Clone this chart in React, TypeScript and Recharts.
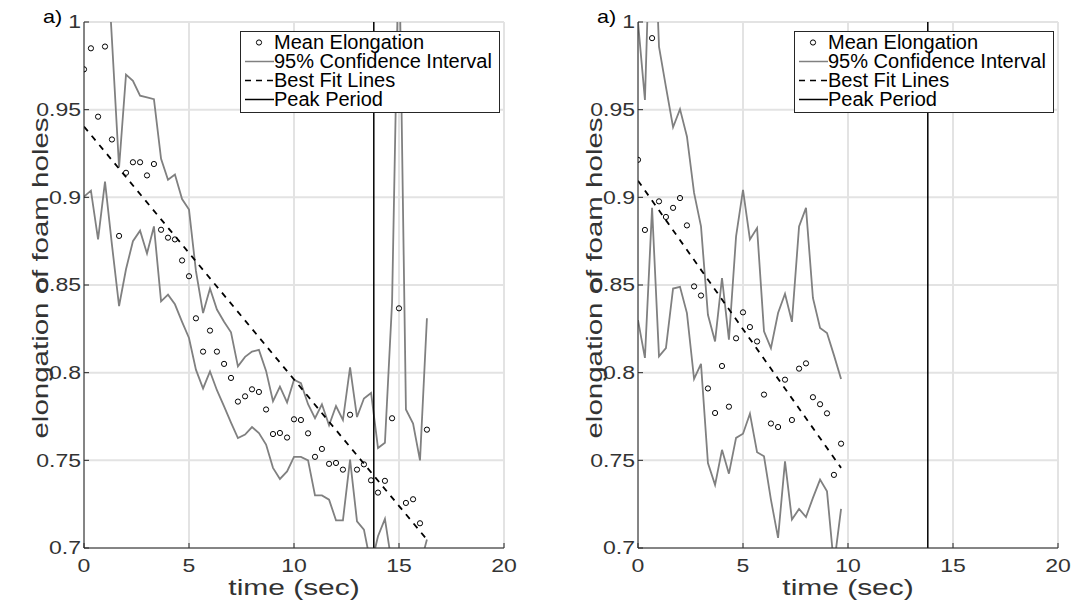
import React from "react";
import {
  ComposedChart,
  Line,
  Scatter,
  XAxis,
  YAxis,
  CartesianGrid,
  ReferenceLine,
  Legend,
} from "recharts";

// time samples (sec)
const timeLeft = [
  0, 0.33, 0.67, 1, 1.33, 1.67, 2, 2.33, 2.67, 3, 3.33, 3.67, 4, 4.33, 4.67, 5, 5.33, 5.67, 6, 6.33,
  6.67, 7, 7.33, 7.67, 8, 8.33, 8.67, 9, 9.33, 9.67, 10, 10.33, 10.67, 11, 11.33, 11.67, 12, 12.33,
  12.67, 13, 13.33, 13.67, 14, 14.33, 14.67, 15, 15.33, 15.67, 16, 16.33,
];
const meanLeft = [
  0.973, 0.985, 0.946, 0.986, 0.933, 0.878, 0.914, 0.92, 0.92, 0.9125, 0.919, 0.8815, 0.877, 0.876,
  0.864, 0.855, 0.831, 0.812, 0.824, 0.812, 0.805, 0.797, 0.7835, 0.7865, 0.7905, 0.789, 0.779,
  0.765, 0.7656, 0.763, 0.7734, 0.773, 0.7654, 0.752, 0.7565, 0.748, 0.7485, 0.7447, 0.776, 0.7447,
  0.7477, 0.7386, 0.7316, 0.7383, 0.774, 0.8367, 0.7257, 0.7278, 0.7141, 0.7675,
];
const upperLeft = [
  1.05, 1.06, 1.04, 1.06, 0.99, 0.917, 0.97, 0.9665, 0.958, 0.957, 0.956, 0.922, 0.91, 0.913, 0.899,
  0.893, 0.858, 0.834, 0.848, 0.836, 0.829, 0.823, 0.8036, 0.809, 0.812, 0.813, 0.801, 0.7837, 0.792,
  0.783, 0.796, 0.794, 0.782, 0.774, 0.782, 0.77, 0.781, 0.773, 0.803, 0.7747, 0.7853, 0.7884, 0.757,
  0.76, 0.84, 1.05, 0.779, 0.771, 0.75, 0.831,
];
const lowerLeft = [
  0.9004, 0.9038, 0.876, 0.909, 0.873, 0.838, 0.859, 0.875, 0.881, 0.868, 0.8834, 0.8407, 0.8445,
  0.839, 0.829, 0.8198, 0.8017, 0.791, 0.8007, 0.79, 0.7808, 0.7715, 0.7627, 0.7647, 0.769, 0.7656,
  0.759, 0.7457, 0.7394, 0.7437, 0.752, 0.752, 0.75, 0.73, 0.73, 0.7276, 0.7158, 0.7158, 0.7504,
  0.7152, 0.7105, 0.69, 0.7067, 0.7166, 0.69, 0.68, 0.68, 0.68, 0.69, 0.7048,
];
const fitLeftTime = [0, 16.33];
const fitLeftValue = [0.9404, 0.7048];
const peakLeft = 13.8;

const timeRight = [
  0, 0.33, 0.67, 1, 1.33, 1.67, 2, 2.33, 2.67, 3, 3.33, 3.67, 4, 4.33, 4.67, 5, 5.33, 5.67, 6, 6.33,
  6.67, 7, 7.33, 7.67, 8, 8.33, 8.67, 9, 9.33, 9.67,
];
const meanRight = [
  0.9214, 0.8814, 0.9908, 0.8977, 0.8888, 0.894, 0.8996, 0.884, 0.8492, 0.844, 0.791, 0.777, 0.8038,
  0.7806, 0.8196, 0.8344, 0.826, 0.8178, 0.7875, 0.771, 0.769, 0.796, 0.773, 0.8023, 0.8053, 0.786,
  0.782, 0.7768, 0.7417, 0.7595,
];
const upperRight = [
  1.0, 0.9556, 1.09, 0.986, 0.963, 0.94, 0.9503, 0.9347, 0.9025, 0.8834, 0.833, 0.8178, 0.854, 0.8188,
  0.8777, 0.9043, 0.876, 0.8825, 0.8236, 0.814, 0.834, 0.845, 0.829, 0.8834, 0.894, 0.8426, 0.8255,
  0.8226, 0.81, 0.7964,
];
const lowerRight = [
  0.83, 0.8084, 0.894, 0.8093, 0.814, 0.848, 0.849, 0.834, 0.7964, 0.805, 0.7485, 0.736, 0.756, 0.7424,
  0.7628, 0.7652, 0.7766, 0.7546, 0.7523, 0.7276, 0.7058, 0.7494, 0.7162, 0.7223, 0.7177, 0.7286,
  0.739, 0.7323, 0.69, 0.7223,
];
const fitRightTime = [0, 9.67];
const fitRightValue = [0.9095, 0.7457];
const peakRight = 13.8;

const xTicks = [0, 5, 10, 15, 20];
const yTicks = [0.7, 0.75, 0.8, 0.85, 0.9, 0.95, 1];
const legendLabels = ["Mean Elongation", "95% Confidence Interval", "Best Fit Lines", "Peak Period"];
const panelLabel = "a)";
const xLabel = "time (sec)";
const yLabel = "elongation of foam holes";

const FONT = '"Liberation Sans", Arial, Helvetica, sans-serif';
const INK = "#262626";
const TXT = "#333";
const CI = "#808080";

const pts = (t: number[], v: number[]) => t.map((x, i) => ({ t: x, v: v[i] }));
const fmt = (v: number) => String(+v.toFixed(2));

function YTick(props: any) {
  const { x, y, payload } = props;
  const ax = x + 3;
  return (
    <g>
      <line x1={ax} x2={ax + 5} y1={y} y2={y} stroke={INK} />
      <text
        transform={`translate(${x},${y}) scale(1.28,1)`}
        textAnchor="end"
        dy="0.36em"
        fontSize={18}
        fill={TXT}
        fontFamily={FONT}
      >
        {fmt(payload.value)}
      </text>
    </g>
  );
}

function XTick(props: any) {
  const { x, y, payload } = props;
  const ay = y - 11;
  return (
    <g>
      <line x1={x} x2={x} y1={ay} y2={ay - 5} stroke={INK} />
      <text
        transform={`translate(${x},${y}) scale(1.28,1)`}
        textAnchor="middle"
        dy="0.72em"
        fontSize={18}
        fill={TXT}
        fontFamily={FONT}
      >
        {fmt(payload.value)}
      </text>
    </g>
  );
}

function Dot(props: any) {
  return <circle cx={props.cx} cy={props.cy} r={2.6} fill="none" stroke="#000" strokeWidth={1} />;
}

function LegendBox() {
  const icons = [
    <circle key="c" cx={18} cy={9.5} r={2.6} fill="none" stroke="#000" />,
    <line key="l" x1={4} x2={33} y1={9.5} y2={9.5} stroke={CI} strokeWidth={1.5} />,
    <line key="d" x1={4} x2={33} y1={9.5} y2={9.5} stroke="#000" strokeWidth={1.5} strokeDasharray="6 5" />,
    <line key="p" x1={4} x2={33} y1={9.5} y2={9.5} stroke="#000" strokeWidth={1.5} />,
  ];
  return (
    <div
      style={{
        width: 260,
        height: 82,
        boxSizing: "border-box",
        border: `1px solid ${INK}`,
        background: "#fff",
        paddingTop: 1,
        fontFamily: FONT,
        fontSize: 20,
        color: "#000",
      }}
    >
      {legendLabels.map((label, i) => (
        <div key={label} style={{ display: "flex", alignItems: "center", height: 19, whiteSpace: "nowrap" }}>
          <svg width={33} height={19} style={{ flex: "none" }}>
            {icons[i]}
          </svg>
          <span style={{ lineHeight: "19px" }}>{label}</span>
        </div>
      ))}
    </div>
  );
}

type PanelProps = {
  time: number[];
  mean: number[];
  upper: number[];
  lower: number[];
  fitT: number[];
  fitV: number[];
  peak: number;
  marginLeft: number;
  marginRight: number;
  legendLeft: number;
};

function Panel(p: PanelProps) {
  return (
    <ComposedChart
      width={536}
      height={601}
      margin={{ top: 22, right: p.marginRight, bottom: 23, left: p.marginLeft }}
    >
      <CartesianGrid stroke="#e3e3e3" strokeWidth={2} />
      <XAxis
        type="number"
        dataKey="t"
        domain={[0, 20]}
        ticks={xTicks}
        interval={0}
        allowDataOverflow
        height={30}
        tickSize={0}
        tickLine={false}
        tickMargin={11}
        tick={<XTick />}
        axisLine={{ stroke: INK }}
        label={{
          content: (lp: any) => {
            const vb = lp.viewBox;
            return (
              <text
                transform={`translate(${vb.x + vb.width / 2},${vb.y + 47}) scale(1.36,1)`}
                textAnchor="middle"
                fontSize={22}
                fill={TXT}
                fontFamily={FONT}
              >
                {xLabel}
              </text>
            );
          },
        }}
      />
      <YAxis
        type="number"
        dataKey="v"
        domain={[0.7, 1]}
        ticks={yTicks}
        interval={0}
        allowDataOverflow
        width={50}
        tickSize={0}
        tickLine={false}
        tickMargin={3}
        tick={<YTick />}
        axisLine={{ stroke: INK }}
        label={{
          content: (lp: any) => {
            const vb = lp.viewBox;
            const ax = vb.x + vb.width;
            return (
              <g>
                <text
                  transform={`translate(${ax - 36},${vb.y + 256}) rotate(-90) scale(1.34,1)`}
                  textAnchor="middle"
                  fontSize={22}
                  fill={TXT}
                  fontFamily={FONT}
                >
                  {yLabel}
                </text>
                <text
                  transform={`translate(${ax - 41},${vb.y + 1}) scale(1.2,1)`}
                  fontSize={18}
                  fill="#000"
                  fontFamily={FONT}
                >
                  {panelLabel}
                </text>
              </g>
            );
          },
        }}
      />
      <Line
        data={pts(p.time, p.upper)}
        dataKey="v"
        stroke={CI}
        strokeWidth={1.8}
        dot={false}
        isAnimationActive={false}
      />
      <Line
        data={pts(p.time, p.lower)}
        dataKey="v"
        stroke={CI}
        strokeWidth={1.8}
        dot={false}
        isAnimationActive={false}
      />
      <Line
        data={pts(p.fitT, p.fitV)}
        dataKey="v"
        stroke="#000"
        strokeWidth={1.8}
        strokeDasharray="6 6"
        dot={false}
        isAnimationActive={false}
      />
      <Scatter data={pts(p.time, p.mean)} dataKey="v" shape={<Dot />} isAnimationActive={false} />
      <ReferenceLine x={p.peak} stroke="#000" strokeWidth={1.5} />
      <Legend
        layout="horizontal"
        verticalAlign="middle"
        align="center"
        content={<LegendBox />}
        wrapperStyle={{ left: p.legendLeft, top: 31, width: 260, height: 82 }}
      />
    </ComposedChart>
  );
}

export default function App() {
  return (
    <div style={{ position: "absolute", left: 0, top: 0, width: 1072, height: 601, background: "#fff" }}>
      <div style={{ position: "absolute", left: 0, top: 0 }}>
        <Panel
          time={timeLeft}
          mean={meanLeft}
          upper={upperLeft}
          lower={lowerLeft}
          fitT={fitLeftTime}
          fitV={fitLeftValue}
          peak={peakLeft}
          marginLeft={34}
          marginRight={32}
          legendLeft={240}
        />
      </div>
      <div style={{ position: "absolute", left: 536, top: 0 }}>
        <Panel
          time={timeRight}
          mean={meanRight}
          upper={upperRight}
          lower={lowerRight}
          fitT={fitRightTime}
          fitV={fitRightValue}
          peak={peakRight}
          marginLeft={52}
          marginRight={14}
          legendLeft={258}
        />
      </div>
    </div>
  );
}
